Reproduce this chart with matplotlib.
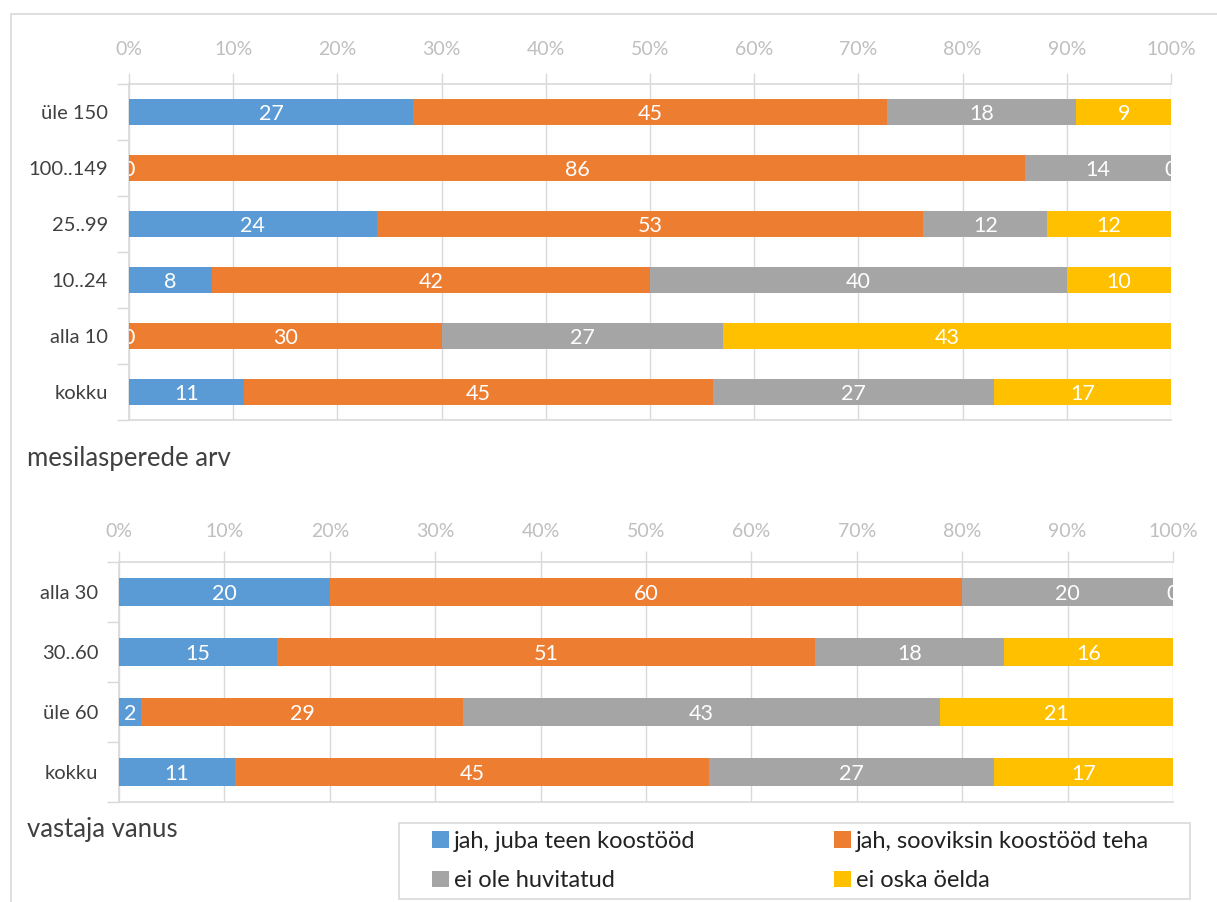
import matplotlib
matplotlib.use("Agg")
import matplotlib.pyplot as plt
from matplotlib.patches import Patch, Rectangle
from matplotlib.ticker import FixedLocator, PercentFormatter
import numpy as np

plt.rcParams['font.family'] = ['Lato', 'DejaVu Sans']

# Answer categories (legend)
answers = ["jah, juba teen koostööd", "jah, sooviksin koostööd teha",
           "ei ole huvitatud", "ei oska öelda"]
colors = ["#5B9BD5", "#ED7D31", "#A5A5A5", "#FFC000"]

# Chart 1: number of bee colonies
hives_groups = ["üle 150", "100..149", "25..99", "10..24", "alla 10", "kokku"]
hives_yes_now = [27, 0, 24, 8, 0, 11]
hives_yes_want = [45, 86, 53, 42, 30, 45]
hives_not_int = [18, 14, 12, 40, 27, 27]
hives_dont_know = [9, 0, 12, 10, 43, 17]

# Chart 2: respondent age
age_groups = ["alla 30", "30..60", "üle 60", "kokku"]
age_yes_now = [20, 15, 2, 11]
age_yes_want = [60, 51, 29, 45]
age_not_int = [20, 18, 43, 27]
age_dont_know = [0, 16, 21, 17]

GRID = "#D9D9D9"
TICKTXT = "#BFBFBF"
TXT = "#404040"
LEGTXT = "#222222"


def stacked(ax, groups, series, tick_pad, label_pad):
    vals = np.array(series, dtype=float)          # (n_series, n_groups)
    shares = vals / vals.sum(axis=0) * 100.0
    y = np.arange(len(groups))
    left = np.zeros(len(groups))
    for k in range(vals.shape[0]):
        ax.barh(y, shares[k], left=left, height=0.48,
                color=colors[k], zorder=3)
        for yi, l, w, v in zip(y, left, shares[k], vals[k]):
            ax.text(l + w / 2, yi + 0.04, f"{int(v)}", ha="center", va="center",
                    color="white", fontsize=15.5, zorder=4, clip_on=True)
        left = left + shares[k]
    ax.set_xlim(0, 100)
    ax.set_ylim(len(groups) - 0.5, -0.5)
    ax.xaxis.set_major_locator(FixedLocator(np.arange(0, 101, 10)))
    ax.xaxis.set_major_formatter(PercentFormatter(decimals=0))
    ax.xaxis.tick_top()
    ax.tick_params(axis="x", which="major", length=8, width=1, color=GRID,
                   labelcolor=TICKTXT, labelsize=14, pad=tick_pad)
    ax.grid(axis="x", color=GRID, linewidth=1, zorder=0)
    ax.set_yticks(y)
    ax.set_yticklabels(groups)
    ax.yaxis.set_minor_locator(FixedLocator(np.arange(-0.5, len(groups), 1.0)))
    ax.tick_params(axis="y", which="major", length=0, labelcolor=TXT,
                   labelsize=14.5, pad=label_pad)
    ax.tick_params(axis="y", which="minor", length=9, width=1, color=GRID)
    for s in ("top", "bottom", "left"):
        ax.spines[s].set_color(GRID)
        ax.spines[s].set_linewidth(1.2)
    ax.spines["right"].set_visible(False)


W, H = 1217, 902
fig = plt.figure(figsize=(W / 100, H / 100), dpi=100)

# chart area frame
fig.patches.append(Rectangle((11 / W, -0.05), 1.2, 1 - 14 / H + 0.05,
                             transform=fig.transFigure, fill=False,
                             edgecolor=GRID, linewidth=1.2))

ax1 = fig.add_axes([129 / W, 1 - 420 / H, (1171 - 129) / W, (420 - 84) / H])
stacked(ax1, hives_groups,
        [hives_yes_now, hives_yes_want, hives_not_int, hives_dont_know],
        tick_pad=11, label_pad=15)

ax2 = fig.add_axes([119 / W, 1 - 802 / H, (1173 - 119) / W, (802 - 562) / H])
stacked(ax2, age_groups,
        [age_yes_now, age_yes_want, age_not_int, age_dont_know],
        tick_pad=8, label_pad=15)

fig.text(27 / W, 1 - 458 / H, "mesilasperede arv", fontsize=18.5, color=TXT,
         va="center", ha="left")
fig.text(27 / W, 1 - 830 / H, "vastaja vanus", fontsize=18.5, color=TXT,
         va="center", ha="left")

# legend: frame drawn separately so it spans the full box width
fig.patches.append(Rectangle((399 / W, 1 - 899 / H), (1190 - 399) / W, 76 / H,
                             transform=fig.transFigure, fill=False,
                             edgecolor=GRID, linewidth=1.2))
LEG_FS = 17
renderer = fig.canvas.get_renderer()
probe = fig.text(0, 0, answers[0], fontsize=LEG_FS)
w0 = probe.get_window_extent(renderer).width
probe.remove()
fs_px = LEG_FS * 100 / 72
handle_len = 17 / fs_px
text_pad = 5 / fs_px
col_gap = (834 - 432 - (handle_len + text_pad) * fs_px - w0) / fs_px

handles = [Patch(facecolor=c, edgecolor="none") for c in colors]
order = [0, 2, 1, 3]
leg = fig.legend([handles[i] for i in order], [answers[i] for i in order],
                 ncol=2, loc="center left",
                 bbox_to_anchor=(432 / W, 1 - 861 / H),
                 fontsize=LEG_FS, frameon=False,
                 handlelength=handle_len, handleheight=handle_len,
                 handletextpad=text_pad, labelspacing=0.78,
                 columnspacing=col_gap, borderpad=0, borderaxespad=0)
for t in leg.get_texts():
    t.set_color(LEGTXT)

fig.savefig("out.png", dpi=100)
